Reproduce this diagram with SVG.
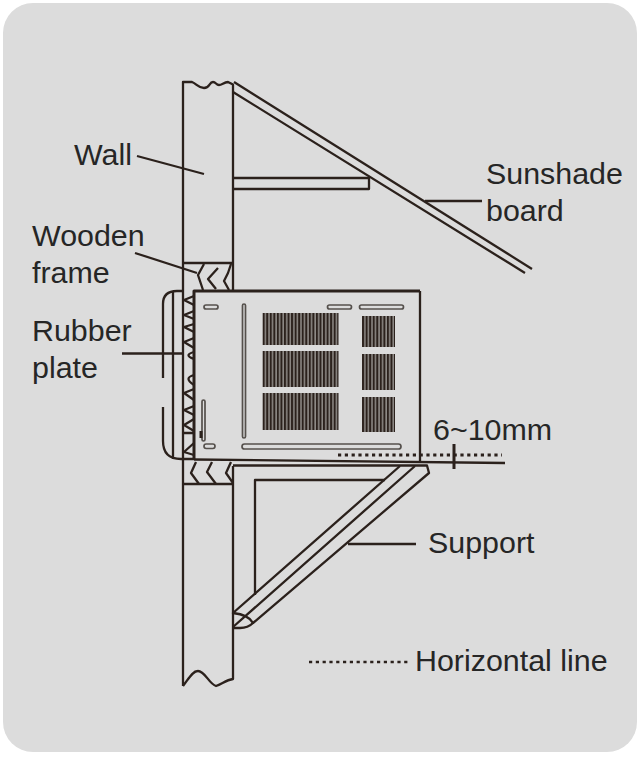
<svg xmlns="http://www.w3.org/2000/svg" width="643" height="757" viewBox="0 0 643 757">
<style>
.l{fill:none;stroke:#2b211c;stroke-width:2.300;stroke-linejoin:round}
.t{stroke-width:3}
.s{fill:none;stroke:#55504c;stroke-width:1.700}
.d{fill:none;stroke:#2b211c;stroke-width:3;stroke-dasharray:3.200 3.600}
text{font-family:"Liberation Sans",Arial,sans-serif;font-size:30.400px;fill:#262626}
</style>
<defs>
<pattern id="g" width="3.550" height="10" patternUnits="userSpaceOnUse"><rect width="3.550" height="10" fill="#8e8a86"/><rect width="2" height="10" fill="#2b211c"/></pattern>
</defs>
<rect width="643" height="757" fill="#fff"/>
<rect x="3" y="3" width="634" height="749" rx="30" fill="#dcdcdc"/>
<g id="wall">
<path class="l" d="M183 686V82H192C197 84 198 88 204 88C210 88 209 82 213 82C216 82 216 85 219 85C222 85 224 82 228 82L233 84.500V291M233 466V679C226 680 222 684 216 686C209 684 205 671 198 671C192 671 188 680 183 686"/>
<path class="l" d="M183 263H233M183 484H233"/>
</g>
<g id="wooden-frame">
<path class="l" d="M204 264L198 275L203 290M218 268L208 279L216 289M231 264L228 273L224 281L229 290"/>
<path class="l" d="M196 462L191 473L199 484M212 462L207 472L216 484M231 462L226 473L233 483"/>
</g>
<g id="sunshade-board">
<path class="l" d="M234 82L532 269M233 92L525 273"/>
<path class="l" d="M233 178H369V189H233"/>
</g>
<g id="rubber-plate">
<path class="l" d="M173 291V459M163 378V304Q163 291 177 291H183M163 407V441Q163 459 181 459H194"/>
<path class="l" d="M194 296L184 300L194 305M194 311L184 315L194 319M194 324L184 327L194 332M194 338L184 342L194 348M194 352Q183 355 194 359M194 375Q183 378 194 385M194 389L184 393L194 400M194 406L184 410L194 415M194 419L184 425L194 431M194 433H184M194 443L184 452L194 455"/>
</g>
<g id="unit">
<path class="l t" d="M194 459V291H420"/>
<path class="l" d="M420 291V461"/>
<rect class="s" x="204" y="305" width="14" height="4" rx="2"/>
<rect class="s" x="242.500" y="304" width="3" height="134" rx="1.500"/>
<rect class="s" x="202" y="400" width="3" height="41" rx="1.500"/>
<path class="l t" d="M201 431V438"/>
<rect class="s" x="204" y="444" width="11" height="4.500" rx="2.200"/>
<rect class="s" x="242" y="444" width="159" height="5" rx="2.500"/>
<rect class="s" x="327.500" y="305" width="24" height="4" rx="2"/>
<rect class="s" x="359.500" y="305" width="44" height="4" rx="2"/>
<rect x="262.500" y="313" width="76" height="32" fill="url(#g)"/>
<rect x="262.500" y="351" width="76" height="36" fill="url(#g)"/>
<rect x="262.500" y="393" width="76" height="37" fill="url(#g)"/>
<rect x="362" y="316" width="33" height="31" fill="url(#g)"/>
<rect x="362" y="354" width="33" height="36" fill="url(#g)"/>
<rect x="362" y="397" width="33" height="35" fill="url(#g)"/>
</g>
<g id="support">
<path class="l" d="M233 465.500H427L429 473L253 623C250 626 246 628 240 628H233"/>
<path class="l" d="M415 466L233 627M400 466L233 613C242 614 250 617 253 623"/>
<path class="l" d="M255 595V480H385"/>
</g>
<g id="connectors">
<path class="l" d="M137 156L204 174M135 253L197 273M122 353.500H183M425 201H482M348 544H416"/>
<path class="l" d="M194 459.500L505 463"/>
<path class="l t" d="M454 444V469"/>
<path class="d" d="M338 455H502"/>
<path class="d" d="M309 662H410" style="stroke-width:2.500"/>
</g>
<g id="labels">
<text x="74" y="165">Wall</text>
<text x="486" y="184">Sunshade</text>
<text x="486" y="221">board</text>
<text x="32" y="246">Wooden</text>
<text x="32" y="283">frame</text>
<text x="32" y="341">Rubber</text>
<text x="32" y="378">plate</text>
<text x="433" y="440">6~10mm</text>
<text x="428" y="553">Support</text>
<text x="415" y="671">Horizontal line</text>
</g>
</svg>
